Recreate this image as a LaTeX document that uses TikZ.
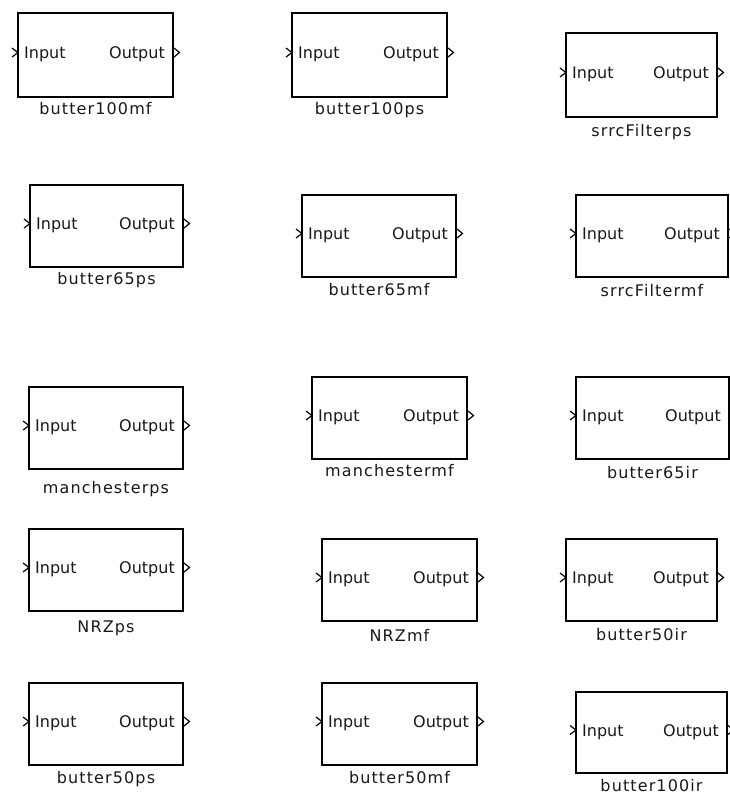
\documentclass[tikz,border=0pt]{standalone}
\usepackage{fontspec}
\usetikzlibrary{calc}
\newfontfamily\portfont{DejaVu Sans}
\newfontfamily\namefont[LetterSpace=7]{DejaVu Sans}

\tikzset{
  blockbox/.style={draw=black, line width=1.3pt, rectangle, inner sep=0pt, outer sep=0pt, fill=white},
  portmark/.style={draw=black, line width=1.2pt, line join=miter},
  porttext/.style={inner sep=0pt, text=black!90, font=\portfont\fontsize{16}{18}\selectfont},
  nametext/.style={inner sep=0pt, text=black!90, font=\namefont\fontsize{16}{18}\selectfont},
}

% #1 name, #2 left, #3 top, #4 right, #5 bottom, #6 label centre y, #7 label
\newcommand\simblock[7]{%
  \node[blockbox, minimum width={(#4-#2)*1pt}, minimum height={(#5-#3)*1pt}]
    (#1) at ({(#2+#4)/2},{(#3+#5)/2}) {};
  \coordinate (#1-in)  at ($(#1.west)+(0,-2.5)$);
  \coordinate (#1-out) at ($(#1.east)+(0,-2.5)$);
  \draw[portmark] ($(#1-in)+(-6,-4.5)$) -- (#1-in) -- ($(#1-in)+(-6,4.5)$);
  \draw[portmark] ($(#1-out)+(1,-4.5)$) -- ($(#1-out)+(6.5,0)$) -- ($(#1-out)+(1,4.5)$);
  \node[porttext, anchor=base west] (#1-inlbl) at ($(#1-in)+(6,6)$) {Input};
  \node[porttext, anchor=base east] (#1-outlbl) at ($(#1-out)+(-8,6)$) {Output};
  \node[nametext, anchor=base] (#1-name) at ({(#2+#4)/2},{#6+6}) {#7};
}

\begin{document}
\begin{tikzpicture}[x=1pt,y=-1pt]
\useasboundingbox[fill=white] (0,0) rectangle (730,796);

\simblock{b1}{18}{13}{173}{97}{108}{butter100mf}
\simblock{b2}{292}{13}{447}{97}{108}{butter100ps}
\simblock{b3}{566}{33}{717}{117}{130}{srrcFilterps}

\simblock{b4}{30}{185}{183}{267}{278}{butter65ps}
\simblock{b5}{302}{195}{456}{277}{289}{butter65mf}
\simblock{b6}{576}{195}{728}{277}{290}{srrcFiltermf}

\simblock{b7}{29}{387}{183}{469}{487}{manchesterps}
\simblock{b8}{312}{377}{467}{459}{470}{manchestermf}
\simblock{b9}{576}{377}{729}{459}{472}{butter65ir}

\simblock{b10}{29}{529}{183}{611}{626}{NRZps}
\simblock{b11}{322}{539}{477}{621}{635}{NRZmf}
\simblock{b12}{566}{539}{717}{621}{634}{butter50ir}

\simblock{b13}{29}{683}{183}{765}{777}{butter50ps}
\simblock{b14}{322}{683}{477}{765}{777}{butter50mf}
\simblock{b15}{576}{692}{727}{773}{785}{butter100ir}
\end{tikzpicture}
\end{document}
